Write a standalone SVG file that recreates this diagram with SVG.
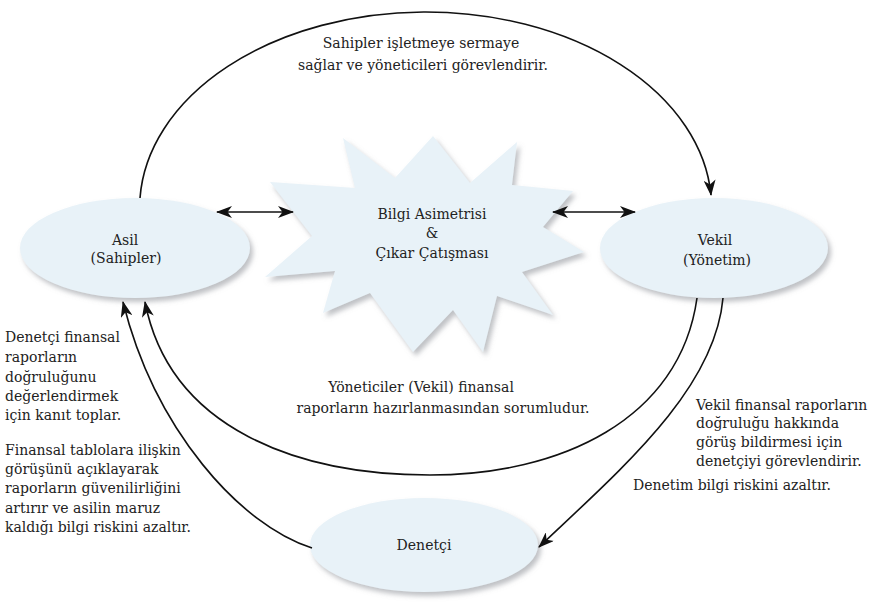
<svg xmlns="http://www.w3.org/2000/svg" width="871" height="605" viewBox="0 0 871 605">
<style>
  text { font-family: "DejaVu Serif", "Liberation Serif", serif; font-size: 14px; fill: #222; }
  .c { text-anchor: middle; }
  .node { fill: #e8f2f8; filter: url(#sh); }
  .ln { fill: none; stroke: #111; stroke-width: 1.6; }
</style>
<defs>
  <filter id="sh" x="-10%" y="-10%" width="125%" height="130%">
    <feDropShadow dx="3" dy="4" stdDeviation="2.5" flood-color="#8a8f94" flood-opacity="0.55"/>
  </filter>
  <marker id="ahb" viewBox="0 0 16 12" refX="15" refY="6" markerWidth="16" markerHeight="12" markerUnits="userSpaceOnUse" orient="auto-start-reverse">
    <path d="M0,0 L16,6 L0,12 L4.5,6 z" fill="#111"/>
  </marker>
</defs>

<g id="asil">
  <ellipse class="node" cx="135" cy="248" rx="115" ry="50"/>
  <text class="c" x="125" y="245">Asil</text>
  <text class="c" x="126" y="263">(Sahipler)</text>
</g>

<g id="vekil">
  <ellipse class="node" cx="714" cy="248" rx="114" ry="50"/>
  <text class="c" x="715" y="245">Vekil</text>
  <text class="c" x="717" y="265">(Yönetim)</text>
</g>

<g id="denetci">
  <ellipse class="node" cx="424" cy="545" rx="114" ry="47"/>
  <text class="c" x="424" y="550">Denetçi</text>
</g>

<g id="catisma">
  <polygon class="node" points="343,138 395,178 433,136 470,183 517,142 512,185 573,191 543,227 584,252 522,272 553,315 497,296 483,352 453,310 413,352 370,293 323,313 335,271 265,277 312,236 270,182 355,188"/>
  <text class="c" x="432" y="219">Bilgi Asimetrisi</text>
  <text class="c" x="432" y="238">&amp;</text>
  <text class="c" x="432" y="258">Çıkar Çatışması</text>
</g>

<g id="connectors">
  <path class="ln" d="M 140 198 A 286 196 0 0 1 711 195" marker-end="url(#ahb)"/>
  <path class="ln" d="M 217 212 L 293 212" marker-start="url(#ahb)" marker-end="url(#ahb)"/>
  <path class="ln" d="M 553 212 L 635 212" marker-start="url(#ahb)" marker-end="url(#ahb)"/>
  <path class="ln" d="M 697 298 C 680 420, 560 475, 430 475 C 300 475, 170 430, 145 302" marker-end="url(#ahb)"/>
  <path class="ln" d="M 723 298 C 715 390, 620 470, 539 547" marker-end="url(#ahb)"/>
  <path class="ln" d="M 312 548 C 240 525, 155 430, 123 302" marker-end="url(#ahb)"/>
</g>

<g id="labels">
  <text class="c" x="421" y="48">Sahipler işletmeye sermaye</text>
  <text class="c" x="423" y="70">sağlar ve yöneticileri görevlendirir.</text>

  <text class="c" x="421" y="392">Yöneticiler (Vekil) finansal</text>
  <text class="c" x="443" y="413">raporların hazırlanmasından sorumludur.</text>

  <text x="5" y="342">Denetçi finansal</text>
  <text x="5" y="362">raporların</text>
  <text x="5" y="382">doğruluğunu</text>
  <text x="5" y="401">değerlendirmek</text>
  <text x="5" y="420">için kanıt toplar.</text>
  <text x="5" y="455">Finansal tablolara ilişkin</text>
  <text x="5" y="474">görüşünü açıklayarak</text>
  <text x="5" y="493">raporların güvenilirliğini</text>
  <text x="5" y="513">artırır ve asilin maruz</text>
  <text x="5" y="532">kaldığı bilgi riskini azaltır.</text>

  <text x="696" y="410">Vekil finansal raporların</text>
  <text x="696" y="428">doğruluğu hakkında</text>
  <text x="696" y="447">görüş bildirmesi için</text>
  <text x="696" y="466">denetçiyi görevlendirir.</text>
  <text x="633" y="490">Denetim bilgi riskini azaltır.</text>
</g>
</svg>
